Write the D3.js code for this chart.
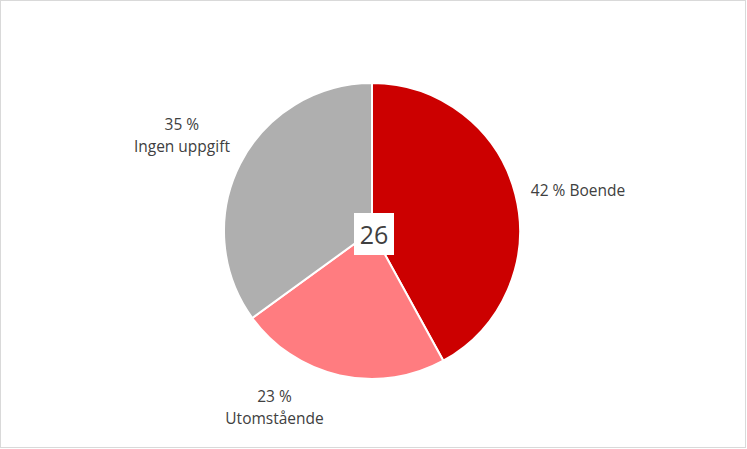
<!DOCTYPE html>
<html><head><meta charset="utf-8">
<script src="https://cdn.jsdelivr.net/npm/d3@7"></script>
<style>html,body{margin:0;padding:0;background:#fff;}</style>
</head><body>
<svg id="chart" width="747" height="449"></svg>
<script>
const categories = ["Boende", "Utomstående", "Ingen uppgift"];
const values = [42, 23, 35];
const colors = ["#CC0000", "#FF7C80", "#AFAFAF"];
const centerLabel = "26";
const labelLines = [["42 % Boende"], ["23 %", "Utomstående"], ["35 %", "Ingen uppgift"]];

const W = 747, H = 449, cx = 372, cy = 231, R = 148;
const svg = d3.select("#chart");
svg.append("rect").attr("x", 0.5).attr("y", 0.5).attr("width", W - 2).attr("height", H - 2)
  .attr("fill", "#fff").attr("stroke", "#d9d9d9").attr("stroke-width", 1);

const pie = d3.pie().sort(null).value(d => d)(values);
const arc = d3.arc().innerRadius(0).outerRadius(R);
const g = svg.append("g").attr("transform", `translate(${cx},${cy})`);
g.selectAll("path").data(pie).join("path")
  .attr("d", arc).attr("fill", (d, i) => colors[i])
  .attr("stroke", "#fff").attr("stroke-width", 2);

// labels
const labelPos = [
  {r: 164, anchor: "start", dx: 0, dy: 0},
  {r: 181, anchor: "middle", dx: -58, dy: 0},
  {r: 210, anchor: "middle", dx: -3, dy: 0}
];
pie.forEach((d, i) => {
  const a = (d.startAngle + d.endAngle) / 2;
  const p = labelPos[i];
  const x = p.r * Math.sin(a) + p.dx;
  const y = -p.r * Math.cos(a) + p.dy;
  const lines = labelLines[i];
  const lh = 22;
  const t = g.append("text").attr("text-anchor", p.anchor)
    .attr("font-family", "'Open Sans', sans-serif").attr("font-size", 15.5)
    .attr("fill", "#404040");
  lines.forEach((ln, j) => {
    t.append("tspan").attr("x", x)
      .attr("y", y + (j - (lines.length - 1) / 2) * lh + 5.5)
      .text(ln);
  });
});

// center box
g.append("rect").attr("x", -18).attr("y", -18).attr("width", 40).attr("height", 42).attr("fill", "#fff");
g.append("text").attr("x", 2).attr("y", 13).attr("text-anchor", "middle")
  .attr("font-family", "'Open Sans', sans-serif").attr("font-size", 25)
  .attr("fill", "#404040").text(centerLabel);
</script>
</body></html>
